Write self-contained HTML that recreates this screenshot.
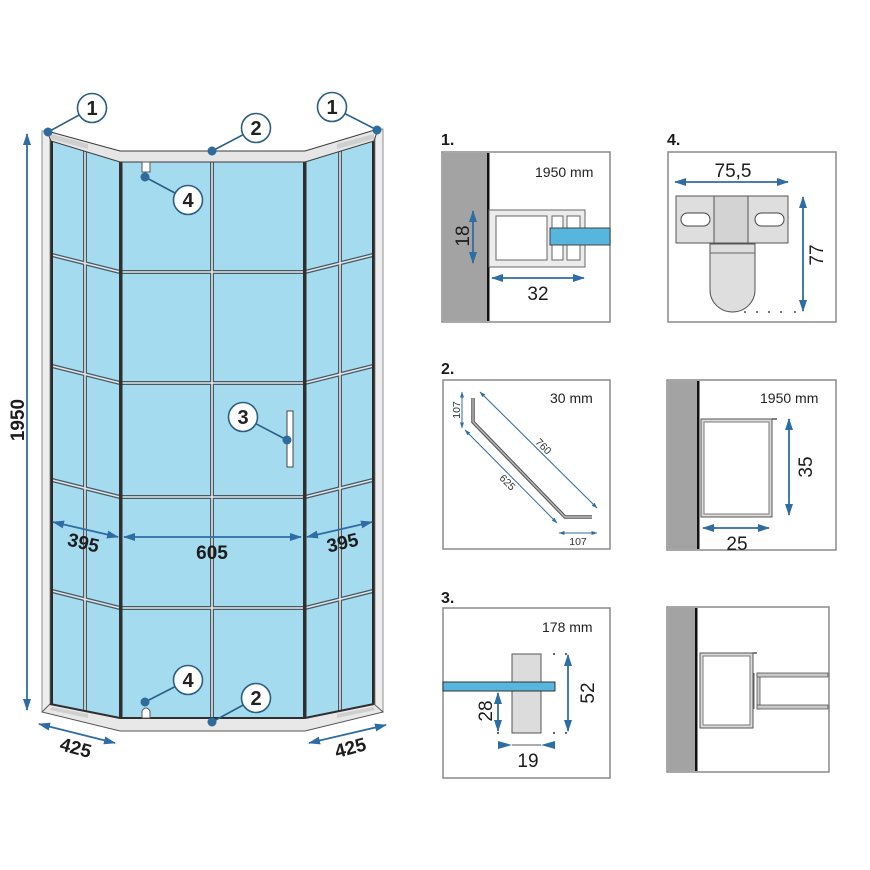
<!DOCTYPE html>
<html><head><meta charset="utf-8"><style>
html,body{margin:0;padding:0;background:#fff;}
svg{display:block;font-family:"Liberation Sans",Arial,sans-serif;}
</style></head><body>
<svg width="870" height="870" viewBox="0 0 870 870" xmlns="http://www.w3.org/2000/svg">
<defs>
<marker id="ah" markerUnits="userSpaceOnUse" markerWidth="12" markerHeight="8" refX="11" refY="4" orient="auto-start-reverse"><path d="M0,0 L12,4 L0,8 Z" fill="#2e6da4"/></marker>
<marker id="as" markerUnits="userSpaceOnUse" markerWidth="6" markerHeight="4" refX="5.5" refY="2" orient="auto-start-reverse"><path d="M0,0 L6,2 L0,4 Z" fill="#2e6da4"/></marker>
</defs>

<!-- ===== MAIN DRAWING ===== -->
<!-- 1950 dimension -->
<line x1="27" y1="134" x2="27" y2="710" stroke="#2e6da4" stroke-width="1.8" marker-start="url(#ah)" marker-end="url(#ah)"/>
<text transform="translate(24,420) rotate(-90)" text-anchor="middle" font-weight="bold" font-size="19" fill="#1c1c1c">1950</text>

<!-- glass -->
<polygon points="50,138 120,158 305,158 375,138 375,706 305,720 120,720 50,706" fill="#a5dbee"/>

<!-- mullions -->
<g stroke-linecap="butt">
<g stroke="#4a5862" stroke-width="4">
<line x1="85" y1="146" x2="85" y2="712"/>
<line x1="340" y1="146" x2="340" y2="712"/>
<line x1="212" y1="160" x2="212" y2="718"/>
<line x1="122" y1="272" x2="303" y2="272"/>
<line x1="122" y1="383" x2="303" y2="383"/>
<line x1="122" y1="497" x2="303" y2="497"/>
<line x1="122" y1="608" x2="303" y2="608"/>
<line x1="52" y1="255" x2="120" y2="272"/>
<line x1="52" y1="366" x2="120" y2="383"/>
<line x1="52" y1="480" x2="120" y2="497"/>
<line x1="52" y1="591" x2="120" y2="608"/>
<line x1="305" y1="272" x2="373" y2="255"/>
<line x1="305" y1="383" x2="373" y2="366"/>
<line x1="305" y1="497" x2="373" y2="480"/>
<line x1="305" y1="608" x2="373" y2="591"/>
</g>
<g stroke="#dfe7eb" stroke-width="1.6">
<line x1="85" y1="146" x2="85" y2="712"/>
<line x1="340" y1="146" x2="340" y2="712"/>
<line x1="212" y1="160" x2="212" y2="718"/>
<line x1="122" y1="272" x2="303" y2="272"/>
<line x1="122" y1="383" x2="303" y2="383"/>
<line x1="122" y1="497" x2="303" y2="497"/>
<line x1="122" y1="608" x2="303" y2="608"/>
<line x1="52" y1="255" x2="120" y2="272"/>
<line x1="52" y1="366" x2="120" y2="383"/>
<line x1="52" y1="480" x2="120" y2="497"/>
<line x1="52" y1="591" x2="120" y2="608"/>
<line x1="305" y1="272" x2="373" y2="255"/>
<line x1="305" y1="383" x2="373" y2="366"/>
<line x1="305" y1="497" x2="373" y2="480"/>
<line x1="305" y1="608" x2="373" y2="591"/>
</g>
</g>

<!-- door frame verticals -->
<rect x="119" y="152" width="3.5" height="570" fill="#2f2f2f"/>
<rect x="303" y="152" width="3.5" height="570" fill="#2f2f2f"/>
<rect x="50" y="136" width="3" height="572" fill="#2a2a2a"/>
<rect x="372" y="136" width="3" height="572" fill="#2a2a2a"/>

<!-- outer frames -->
<rect x="42" y="131" width="8" height="581" fill="#ededed" stroke="#777" stroke-width="0.8"/>
<rect x="375" y="129" width="8" height="583" fill="#ededed" stroke="#777" stroke-width="0.8"/>

<!-- top rail -->
<polygon points="47,131 120,151 305,151 378,129 374,141 305,162 120,162 51,141" fill="#e6e6e6" stroke="#3a3a3a" stroke-width="1"/>
<polygon points="51,134 88,144 88,149 51,139" fill="#cfcfcf"/>
<polygon points="374,134 337,144 337,149 374,139" fill="#cfcfcf"/>

<!-- bottom rail -->
<polygon points="50,704 120,718 305,718 374,704 383,712 305,731 120,731 42,712" fill="#e8e8e8" stroke="#555" stroke-width="1"/>
<polyline points="50,704 120,718 305,718 374,704" fill="none" stroke="#2f2f2f" stroke-width="2"/>
<polygon points="52,707 88,714 88,718 50,710" fill="#cfcfcf"/>
<polygon points="373,707 337,714 337,718 375,710" fill="#cfcfcf"/>

<!-- hinges & handle -->
<rect x="142" y="162" width="8" height="10" fill="#fff" stroke="#555" stroke-width="1"/>
<path d="M142,718 L142,711 Q146,705 150,711 L150,718 Z" fill="#fff" stroke="#555" stroke-width="1"/>
<rect x="287" y="411" width="6" height="56" fill="#fff" stroke="#444" stroke-width="1"/>

<!-- callouts -->
<g stroke="#2b5f85" stroke-width="1.6">
<line x1="92" y1="108" x2="48" y2="132"/>
<line x1="332" y1="107" x2="377" y2="130"/>
<line x1="256" y1="128" x2="212" y2="151"/>
<line x1="188" y1="200" x2="145" y2="177"/>
<line x1="243" y1="417" x2="287" y2="440"/>
<line x1="188" y1="680" x2="145" y2="702"/>
<line x1="256" y1="698" x2="212" y2="722"/>
</g>
<g fill="#2d6c9c">
<circle cx="48" cy="132" r="4.5"/>
<circle cx="377" cy="130" r="4.5"/>
<circle cx="212" cy="151" r="4.5"/>
<circle cx="145" cy="177" r="4.5"/>
<circle cx="287" cy="440" r="4.5"/>
<circle cx="145" cy="702" r="4.5"/>
<circle cx="212" cy="722" r="4.5"/>
</g>
<g fill="#fff" stroke="#2b5f85" stroke-width="1.6">
<circle cx="92" cy="108" r="14.5"/>
<circle cx="332" cy="107" r="14.5"/>
<circle cx="256" cy="128" r="14.5"/>
<circle cx="188" cy="200" r="14.5"/>
<circle cx="243" cy="417" r="14.5"/>
<circle cx="188" cy="680" r="14.5"/>
<circle cx="256" cy="698" r="14.5"/>
</g>
<g font-weight="bold" font-size="20" fill="#222" text-anchor="middle">
<text x="92" y="115">1</text>
<text x="332" y="114">1</text>
<text x="256" y="135">2</text>
<text x="188" y="207">4</text>
<text x="243" y="424">3</text>
<text x="188" y="687">4</text>
<text x="256" y="705">2</text>
</g>

<!-- dimensions main -->
<g stroke="#2e6da4" stroke-width="1.8">
<line x1="53" y1="522" x2="118" y2="537" marker-start="url(#ah)" marker-end="url(#ah)"/>
<line x1="124" y1="537" x2="301" y2="537" marker-start="url(#ah)" marker-end="url(#ah)"/>
<line x1="307" y1="537" x2="372" y2="522" marker-start="url(#ah)" marker-end="url(#ah)"/>
<line x1="39" y1="724" x2="115" y2="743" marker-start="url(#ah)" marker-end="url(#ah)"/>
<line x1="309" y1="743" x2="386" y2="725" marker-start="url(#ah)" marker-end="url(#ah)"/>
</g>
<g font-weight="bold" font-size="19" fill="#1c1c1c" text-anchor="middle">
<text transform="translate(82,549) rotate(13)">395</text>
<text x="212" y="559">605</text>
<text transform="translate(344,549) rotate(-13)">395</text>
<text transform="translate(74,754) rotate(15)">425</text>
<text transform="translate(352,754) rotate(-15)">425</text>
</g>

<!-- ===== RIGHT PANELS ===== -->
<g font-weight="bold" font-size="16" fill="#1a1a1a">
<text x="441" y="145">1.</text>
<text x="667" y="145">4.</text>
<text x="441" y="374">2.</text>
<text x="441" y="603">3.</text>
</g>

<!-- Panel 1 -->
<rect x="442" y="152" width="168" height="170" fill="#fff" stroke="#8a8a8a" stroke-width="1.5"/>
<rect x="443" y="153" width="44" height="168" fill="#a3a3a3"/>
<rect x="487" y="153" width="2.5" height="168" fill="#111"/>
<text x="535" y="177" font-size="14" fill="#222">1950 mm</text>
<rect x="489" y="210" width="96" height="57" fill="#ececec" stroke="#666" stroke-width="1"/>
<rect x="496" y="216" width="51" height="44" fill="#fff" stroke="#666" stroke-width="1"/>
<rect x="552" y="216" width="11" height="44" fill="#fff" stroke="#666" stroke-width="1"/>
<rect x="567" y="216" width="13" height="44" fill="#fff" stroke="#666" stroke-width="1"/>
<rect x="550" y="228" width="60" height="17" fill="#56b6de" stroke="#444" stroke-width="1"/>
<g stroke="#2e6da4" stroke-width="1.8">
<line x1="473" y1="211" x2="473" y2="263" marker-start="url(#ah)" marker-end="url(#ah)"/>
<line x1="492" y1="278" x2="584" y2="278" marker-start="url(#ah)" marker-end="url(#ah)"/>
</g>
<g font-size="19" fill="#1c1c1c" text-anchor="middle">
<text transform="translate(469,236) rotate(-90)">18</text>
<text x="538" y="300">32</text>
</g>

<!-- Panel 4 -->
<rect x="668" y="152" width="168" height="170" fill="#fff" stroke="#8a8a8a" stroke-width="1.5"/>
<text x="733" y="177" font-size="19" fill="#1c1c1c" text-anchor="middle">75,5</text>
<line x1="675" y1="182" x2="788" y2="182" stroke="#2e6da4" stroke-width="1.8" marker-start="url(#ah)" marker-end="url(#ah)"/>
<rect x="676" y="196" width="112" height="47" fill="#dedede" stroke="#555" stroke-width="1"/>
<rect x="714" y="196" width="34" height="47" fill="#d3d3d3" stroke="#555" stroke-width="1"/>
<rect x="681" y="213" width="29" height="13" rx="6.5" fill="#fff" stroke="#444" stroke-width="1"/>
<rect x="755" y="213" width="29" height="13" rx="6.5" fill="#fff" stroke="#444" stroke-width="1"/>
<path d="M710,244 L755,244 L755,290 A22.5,22 0 0 1 710,290 Z" fill="#dedede" stroke="#555" stroke-width="1"/>
<line x1="710" y1="253" x2="755" y2="253" stroke="#666" stroke-width="1"/>
<line x1="803" y1="197" x2="803" y2="311" stroke="#2e6da4" stroke-width="1.8" marker-start="url(#ah)" marker-end="url(#ah)"/>
<text transform="translate(823,255) rotate(-90)" font-size="19" fill="#1c1c1c" text-anchor="middle">77</text>
<g fill="#555"><circle cx="745" cy="312" r="1"/><circle cx="757" cy="312" r="1"/><circle cx="769" cy="312" r="1"/><circle cx="781" cy="312" r="1"/><circle cx="795" cy="312" r="1"/></g>

<!-- Panel 2 -->
<rect x="443" y="380" width="167" height="169" fill="#fff" stroke="#8a8a8a" stroke-width="1.5"/>
<text x="550" y="403" font-size="14" fill="#222">30 mm</text>
<polyline points="473,398 473,422 565,517 592,517" fill="none" stroke="#555" stroke-width="3.5"/>
<polyline points="473,398 473,422 565,517 592,517" fill="none" stroke="#bbb" stroke-width="1.4"/>
<g stroke="#2e6da4" stroke-width="1">
<line x1="462" y1="392" x2="462" y2="428" marker-start="url(#as)" marker-end="url(#as)"/>
<line x1="480" y1="392" x2="597" y2="508" marker-start="url(#as)" marker-end="url(#as)"/>
<line x1="465" y1="430" x2="557" y2="523" marker-start="url(#as)" marker-end="url(#as)"/>
<line x1="559" y1="533" x2="597" y2="533" marker-start="url(#as)" marker-end="url(#as)"/>
</g>
<g font-size="10.5" fill="#333" text-anchor="middle">
<text transform="translate(460,410) rotate(-90)">107</text>
<text transform="translate(541,449) rotate(45)">760</text>
<text transform="translate(505,485) rotate(45)">625</text>
<text x="578" y="545">107</text>
</g>

<!-- Panel right middle -->
<rect x="667" y="380" width="169" height="170" fill="#fff" stroke="#8a8a8a" stroke-width="1.5"/>
<rect x="668" y="381" width="29" height="168" fill="#a3a3a3"/>
<rect x="697" y="381" width="2.5" height="168" fill="#111"/>
<text x="760" y="403" font-size="14" fill="#222">1950 mm</text>
<rect x="701" y="419" width="71" height="98" fill="#dcdcdc" stroke="#555" stroke-width="1"/>
<rect x="704" y="422" width="65" height="92" fill="#fff" stroke="#777" stroke-width="1"/>
<line x1="772" y1="419" x2="777" y2="419" stroke="#555" stroke-width="1.5"/>
<line x1="789" y1="419" x2="789" y2="515" stroke="#2e6da4" stroke-width="1.8" marker-start="url(#ah)" marker-end="url(#ah)"/>
<text transform="translate(812,467) rotate(-90)" font-size="19" fill="#1c1c1c" text-anchor="middle">35</text>
<line x1="703" y1="528" x2="769" y2="528" stroke="#2e6da4" stroke-width="1.8" marker-start="url(#ah)" marker-end="url(#ah)"/>
<text x="737" y="550" font-size="19" fill="#1c1c1c" text-anchor="middle">25</text>

<!-- Panel 3 -->
<rect x="443" y="608" width="167" height="170" fill="#fff" stroke="#8a8a8a" stroke-width="1.5"/>
<text x="542" y="632" font-size="14" fill="#222">178 mm</text>
<rect x="512" y="654" width="29" height="79" fill="#dcdcdc" stroke="#555" stroke-width="1"/>
<rect x="443" y="682" width="112" height="9" fill="#56b6de" stroke="#333" stroke-width="1"/>
<g fill="#555"><circle cx="554" cy="654" r="1.1"/><circle cx="566" cy="654" r="1.1"/><circle cx="554" cy="733" r="1.1"/><circle cx="566" cy="733" r="1.1"/><circle cx="498" cy="733" r="1.1"/></g>
<g stroke="#2e6da4" stroke-width="1.8">
<line x1="498" y1="693" x2="498" y2="731" marker-start="url(#ah)" marker-end="url(#ah)"/>
<line x1="568" y1="655" x2="568" y2="731" marker-start="url(#ah)" marker-end="url(#ah)"/>
<line x1="512" y1="745" x2="541" y2="745" stroke="#555" stroke-width="1"/>
</g>
<path d="M498,741 L512,745 L498,749 Z" fill="#2e6da4"/>
<path d="M555,741 L541,745 L555,749 Z" fill="#2e6da4"/>
<g font-size="19" fill="#1c1c1c" text-anchor="middle">
<text transform="translate(492,711) rotate(-90)">28</text>
<text transform="translate(594,693) rotate(-90)">52</text>
<text x="528" y="767">19</text>
</g>

<!-- Panel right bottom -->
<rect x="667" y="607" width="162" height="165" fill="#fff" stroke="#8a8a8a" stroke-width="1.5"/>
<rect x="668" y="608" width="27" height="163" fill="#a3a3a3"/>
<rect x="695" y="608" width="2.5" height="163" fill="#111"/>
<rect x="700" y="653" width="53" height="75" fill="#dcdcdc" stroke="#555" stroke-width="1"/>
<rect x="703" y="656" width="47" height="69" fill="#fff" stroke="#777" stroke-width="1"/>
<line x1="753" y1="653" x2="757" y2="653" stroke="#555" stroke-width="1.5"/>
<line x1="754" y1="673" x2="754" y2="709" stroke="#666" stroke-width="1"/>
<rect x="757" y="673" width="3" height="36" fill="#ccc" stroke="#555" stroke-width="0.8"/>
<rect x="757" y="673" width="71" height="4" fill="#c8c8c8" stroke="#555" stroke-width="0.8"/>
<rect x="757" y="705" width="71" height="4" fill="#c8c8c8" stroke="#555" stroke-width="0.8"/>
</svg>
</body></html>
